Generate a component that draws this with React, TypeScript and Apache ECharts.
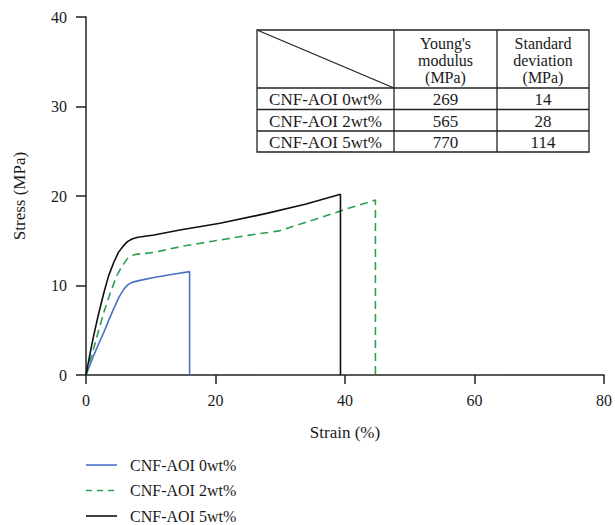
import React, { useEffect, useRef } from "react";
import * as echarts from "echarts";

const seriesNames = ["CNF-AOI 0wt%", "CNF-AOI 2wt%", "CNF-AOI 5wt%"];

const blue0: [number, number][] = [
  [0, 0], [0.6, 1.1], [1.2, 2.2], [2.0, 3.55], [2.8, 4.85], [3.5, 6.1], [4.3, 7.45],
  [5.1, 8.7], [5.9, 9.65], [6.5, 10.1], [7.1, 10.35], [8.5, 10.6], [10.5, 10.9],
  [13, 11.2], [16, 11.55], [16, 0],
];
const green2: [number, number][] = [
  [0, 0], [0.6, 1.5], [1.2, 3.0], [2.0, 5.1], [2.8, 7.1], [3.8, 9.3], [4.8, 11.15],
  [5.6, 12.2], [6.4, 13.0], [7.0, 13.3], [7.7, 13.48], [10.5, 13.7], [15, 14.4],
  [20, 15.0], [25, 15.6], [29.8, 16.1], [35, 17.3], [40, 18.5], [44.7, 19.55], [44.7, 0],
];
const black5: [number, number][] = [
  [0, 0], [0.6, 2.3], [1.2, 4.45], [1.9, 6.7], [2.8, 9.3], [3.5, 11.1], [4.3, 12.6],
  [5.0, 13.7], [5.8, 14.45], [6.4, 14.9], [7.1, 15.2], [8.0, 15.4], [10.5, 15.65],
  [14.5, 16.2], [20.7, 16.95], [27.9, 18.06], [34, 19.1], [39.3, 20.2], [39.3, 0],
];

const tableHeader = ["Young's\nmodulus\n(MPa)", "Standard\ndeviation\n(MPa)"];
const tableRows = ["CNF-AOI 0wt%", "CNF-AOI 2wt%", "CNF-AOI 5wt%"];
const moduli = ["269", "565", "770"];
const deviations = ["14", "28", "114"];

const FONT = "Liberation Serif";
const TXT = "#1a1a1a";

export default function App() {
  const ref = useRef<HTMLDivElement>(null);
  useEffect(() => {
    if (!ref.current) return;
    const chart = echarts.init(ref.current, null, { renderer: "svg" });

    const colors = ["#4a72c4", "#2e9e52", "#111111"];
    const dashes: any[] = ["solid", [8, 5], "solid"];
    const datas = [blue0, green2, black5];

    // table geometry
    const tx = [257, 394, 497, 589];
    const ty = [30, 88, 109.5, 131, 152];
    const stroke = { stroke: "#222", lineWidth: 1.3 };
    const graphics: any[] = [
      { type: "rect", shape: { x: tx[0], y: ty[0], width: tx[3] - tx[0], height: ty[4] - ty[0] }, style: { fill: "#fff", ...stroke }, z: 10 },
      { type: "line", shape: { x1: tx[0], y1: ty[0], x2: tx[1], y2: ty[1] }, style: stroke, z: 11 },
    ];
    for (let i = 1; i < 3; i++) {
      graphics.push({ type: "line", shape: { x1: tx[i], y1: ty[0], x2: tx[i], y2: ty[4] }, style: stroke, z: 11 });
    }
    for (let j = 1; j < 4; j++) {
      graphics.push({ type: "line", shape: { x1: tx[0], y1: ty[j], x2: tx[3], y2: ty[j] }, style: stroke, z: 11 });
    }
    tableHeader.forEach((h, i) => {
      graphics.push({
        type: "text", x: (tx[i + 1] + tx[i + 2]) / 2, y: (ty[0] + ty[1]) / 2 + 1, z: 12,
        style: { text: h, fontFamily: FONT, fontSize: 16, fill: TXT, align: "center", verticalAlign: "middle", lineHeight: 17 },
      });
    });
    tableRows.forEach((r, j) => {
      const cy = (ty[j + 1] + ty[j + 2]) / 2 + 1;
      const cells = [r, moduli[j], deviations[j]];
      cells.forEach((c, i) => {
        graphics.push({
          type: "text", x: (tx[i] + tx[i + 1]) / 2, y: cy, z: 12,
          style: { text: c, fontFamily: FONT, fontSize: 17, fill: TXT, align: "center", verticalAlign: "middle" },
        });
      });
    });

    // manual legend
    const legendY = [465, 490.5, 516];
    seriesNames.forEach((n, i) => {
      graphics.push({
        type: "line", shape: { x1: 86, y1: legendY[i], x2: 117, y2: legendY[i] },
        style: { stroke: colors[i], lineWidth: 1.6, lineDash: i === 1 ? [6, 5] : null },
      });
      graphics.push({
        type: "text", x: 130, y: legendY[i],
        style: { text: n, fontFamily: FONT, fontSize: 16, fill: TXT, align: "left", verticalAlign: "middle" },
      });
    });

    chart.setOption({
      animation: false,
      textStyle: { fontFamily: FONT },
      grid: { left: 86, right: 10, top: 17, bottom: 150, containLabel: false },
      xAxis: {
        type: "value", min: 0, max: 80, interval: 20,
        name: "Strain (%)", nameLocation: "middle", nameGap: 49,
        nameTextStyle: { fontFamily: FONT, fontSize: 17, color: TXT },
        axisLine: { onZero: false, lineStyle: { color: "#222", width: 1.5 } },
        axisTick: { show: true, length: 9, inside: false, lineStyle: { color: "#222", width: 1.5 } },
        axisLabel: { fontFamily: FONT, fontSize: 16, color: TXT, margin: 17 },
        splitLine: { show: false },
      },
      yAxis: {
        type: "value", min: 0, max: 40, interval: 10,
        name: "Stress (MPa)", nameLocation: "middle", nameGap: 58,
        nameTextStyle: { fontFamily: FONT, fontSize: 17, color: TXT },
        axisLine: { show: true, onZero: false, lineStyle: { color: "#222", width: 1.5 } },
        axisTick: { show: true, length: 10, inside: false, lineStyle: { color: "#222", width: 1.5 } },
        axisLabel: { fontFamily: FONT, fontSize: 16, color: TXT, margin: 19 },
        splitLine: { show: false },
      },
      series: datas.map((d, i) => ({
        name: seriesNames[i],
        type: "line",
        data: d,
        showSymbol: false,
        symbol: "none",
        smooth: false,
        color: colors[i],
        lineStyle: { color: colors[i], width: 1.6, type: dashes[i] },
        z: 3,
      })),
      graphic: graphics,
    });
    return () => chart.dispose();
  }, []);
  return (
    <div
      ref={ref}
      style={{ position: "fixed", left: 0, top: 0, width: 615, height: 525, background: "#fff" }}
    />
  );
}
